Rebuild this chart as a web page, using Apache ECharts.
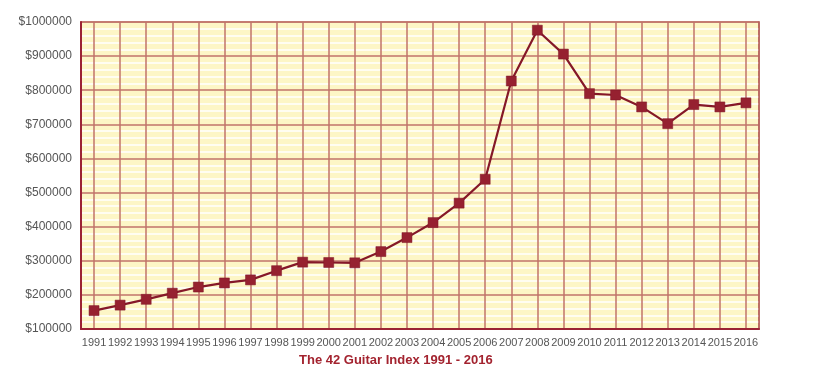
<!DOCTYPE html>
<html>
<head>
<meta charset="utf-8">
<script src="https://cdn.jsdelivr.net/npm/echarts@6/dist/echarts.min.js"></script>
<style>
html,body{margin:0;padding:0;background:#fff;}
#chart{width:818px;height:382px;}
</style>
</head>
<body>
<div id="chart"></div>
<script>
var years = ['1991','1992','1993','1994','1995','1996','1997','1998','1999','2000','2001','2002','2003','2004','2005','2006','2007','2008','2009','2010','2011','2012','2013','2014','2015','2016'];
var indexValues = [154000,170000,187000,205000,223000,235000,244000,271000,296000,295000,294000,327000,368000,412000,469000,539000,827000,976000,906000,790000,786000,751000,702000,758000,751000,763000];
var chartTitle = 'The 42 Guitar Index 1991 - 2016';

var chart = echarts.init(document.getElementById('chart'), null, {renderer:'canvas'});
chart.setOption({
  animation: false,
  backgroundColor: '#ffffff',
  title: {
    text: chartTitle,
    left: 294, top: 349,
    textStyle: {color:'#a3232f', fontSize:13, fontWeight:'bold', fontFamily:'Liberation Sans, Arial, sans-serif'}
  },
  grid: {
    left: 81, right: 59, top: 22, bottom: 53,
    show: true, backgroundColor: '#fdf6c6', borderColor: '#c0736a', borderWidth: 1.5
  },
  xAxis: {
    type: 'category',
    data: years,
    boundaryGap: true,
    axisLine: {show: true, lineStyle: {color:'#9b2335', width: 2}},
    axisTick: {show: false},
    axisLabel: {interval: 0, margin: 8, color:'#555555', fontSize: 11, fontFamily:'Liberation Sans, Arial, sans-serif'},
    splitLine: {show: true, alignWithLabel: true, interval: 0, lineStyle: {color:'#c0736a', width: 1.5}}
  },
  yAxis: [{
    type: 'value',
    min: 100000, max: 1000000, interval: 100000,
    axisLine: {show: true, lineStyle: {color:'#9b2335', width: 2}},
    axisTick: {show: false},
    axisLabel: {margin: 9, color:'#555555', fontSize: 12, fontFamily:'Liberation Sans, Arial, sans-serif',
      formatter: function(v){ return '$' + v; }},
    splitLine: {show: true, lineStyle: {color:'#c0736a', width: 1.5}},
    minorTick: {show: false, splitNumber: 5},
    minorSplitLine: {show: true, lineStyle: {color:'#ffffff', width: 1.5}}
  }, {
    type: 'value',
    position: 'right',
    min: 100000, max: 1000000, interval: 100000,
    axisLine: {show: true, lineStyle: {color:'#b5605a', width: 1.5}},
    axisTick: {show: false},
    axisLabel: {show: false},
    splitLine: {show: false}
  }],
  series: [{
    type: 'line',
    data: indexValues,
    symbol: 'rect',
    symbolSize: 10,
    lineStyle: {color:'#851828', width: 2.2},
    itemStyle: {color:'#962130', borderColor:'#7e1626', borderWidth: 0.5},
    z: 5
  }]
});
</script>
</body>
</html>
